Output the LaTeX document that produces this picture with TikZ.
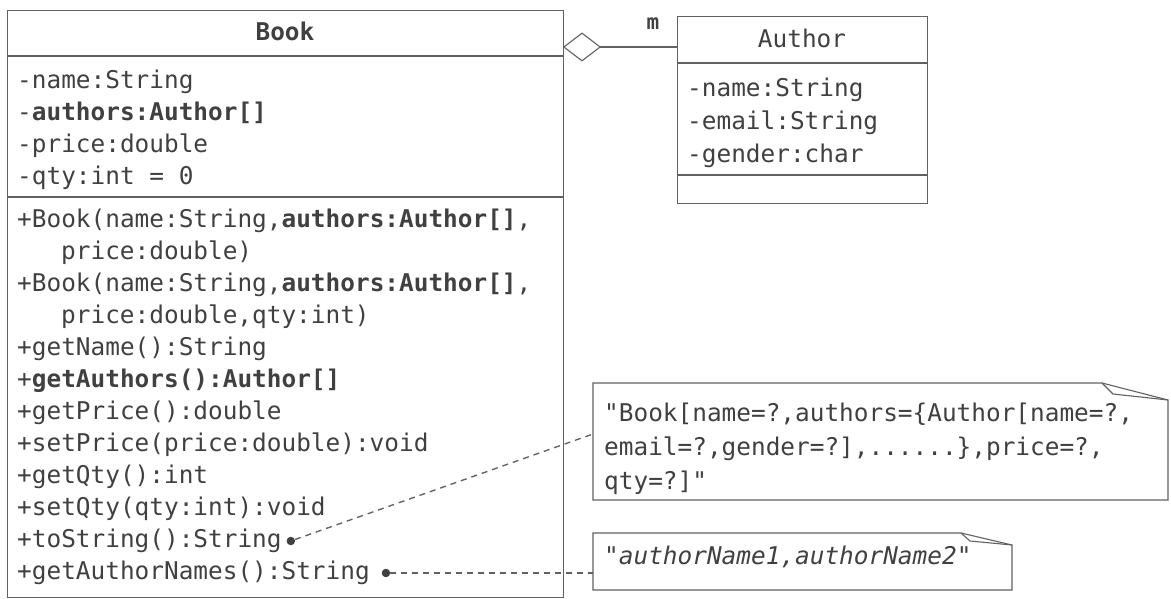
\documentclass[tikz,border=0pt]{standalone}
\usepackage{fontspec}
\setmonofont{DejaVu Sans Mono}
\usetikzlibrary{arrows.meta,calc}
\definecolor{lncol}{gray}{0.38}
\definecolor{txcol}{gray}{0.25}
\begin{document}
\begin{tikzpicture}[x=1pt,y=-1pt,
  boxst/.style={draw=lncol, line width=1.3pt, inner sep=0pt, anchor=north west},
  sepst/.style={draw=lncol, line width=1.1pt},
  mono/.style={font=\ttfamily\fontsize{24.4}{34}\selectfont, text=txcol, inner sep=0pt, anchor=west, text height=18pt, text depth=5pt},
  ttl/.style={mono, anchor=center},
  dotst/.style={circle, fill=txcol, inner sep=0pt, minimum size=8.5pt},
  connst/.style={draw=lncol, line width=1.35pt, dash pattern=on 6pt off 5pt},
  notest/.style={draw=lncol, line width=1.1pt, line join=miter},
]
\useasboundingbox (0,0) rectangle (1171,599);
% Book class
\node[boxst, minimum width=556pt, minimum height=587pt] (book) at (7,10) {};
\node[ttl, font=\ttfamily\bfseries\fontsize{24.4}{34}\selectfont] (booktitle) at (285,34) {Book};
\draw[sepst] (7,56) -- (563,56);
\draw[sepst] (7,197) -- (563,197);
\node[mono] (ba1) at (17,82) {-name:String};
\node[mono] (ba2) at (17,114) {-\textbf{authors:Author[]}};
\node[mono] (ba3) at (17,146) {-price:double};
\node[mono] (ba4) at (17,178) {-qty:int = 0};
\node[mono] (bm1) at (17,221) {+Book(name:String,\textbf{authors:Author[]},};
\node[mono] (bm1b) at (61,253) {price:double)};
\node[mono] (bm2) at (17,285) {+Book(name:String,\textbf{authors:Author[]},};
\node[mono] (bm2b) at (61,317) {price:double,qty:int)};
\node[mono] (bm3) at (17,349) {+getName():String};
\node[mono] (bm4) at (17,381) {+\textbf{getAuthors():Author[]}};
\node[mono] (bm5) at (17,413) {+getPrice():double};
\node[mono] (bm6) at (17,445) {+setPrice(price:double):void};
\node[mono] (bm7) at (17,477) {+getQty():int};
\node[mono] (bm8) at (17,509) {+setQty(qty:int):void};
\node[mono] (bm9) at (17,541) {+toString():String};
\node[mono] (bm10) at (17,573) {+getAuthorNames():String};
% Author class
\node[boxst, minimum width=250pt, minimum height=187pt] (author) at (677,16) {};
\node[ttl] (authortitle) at (802,41) {Author};
\draw[sepst] (677,63) -- (927,63);
\draw[sepst] (677,175) -- (927,175);
\node[mono] (aa1) at (687,90) {-name:String};
\node[mono] (aa2) at (687,123) {-email:String};
\node[mono] (aa3) at (687,156) {-gender:char};
% aggregation
\coordinate (aggL) at (563,47);
\coordinate (aggR) at (author.west |- aggL);
\draw[draw=lncol, line width=1.1pt, {Diamond[open, length=38pt, width=29pt]}-] (aggL) -- (aggR);
\node[font=\ttfamily\bfseries\fontsize{21}{24}\selectfont, text=txcol, inner sep=0pt] (mult) at (653,24) {m};
% note 1
\draw[notest] (593,383) -- (1102,383) -- (1168,400) -- (1168,500) -- (593,500) -- cycle;
\draw[notest] (1102,383) -- (1113,394) -- (1168,400);
\node[mono] (n1l1) at (604,415) {"Book[name=?,authors=\{Author[name=?,};
\node[mono] (n1l2) at (604,449) {email=?,gender=?],......\},price=?,};
\node[mono] (n1l3) at (604,483) {qty=?]"};
% note 2
\draw[notest] (593,533) -- (961,533) -- (1012,545) -- (1012,590) -- (593,590) -- cycle;
\draw[notest] (961,533) -- (970,541) -- (1012,545);
\node[mono] (n2l1) at (604,558) {"\textit{authorName1,authorName2}"};
% connectors
\node[dotst] (d1) at ($(bm9.east)+(9,0)$) {};
\node[dotst] (d2) at ($(bm10.east)+(16,0)$) {};
\coordinate (n1in) at (593,434);
\coordinate (n2in) at (593,573);
\draw[connst] (d1) -- (n1in);
\draw[connst] (d2) -- (n2in);
\end{tikzpicture}
\end{document}
